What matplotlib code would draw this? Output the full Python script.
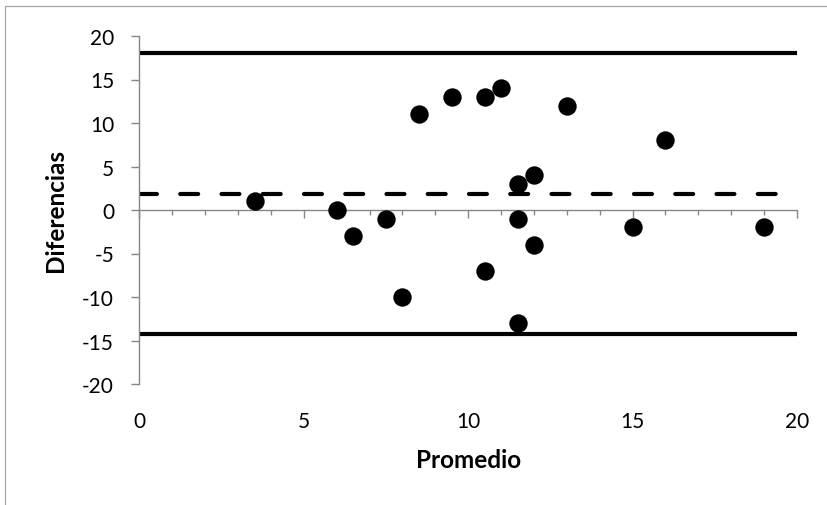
import matplotlib
matplotlib.use('Agg')
import matplotlib.pyplot as plt
from matplotlib.ticker import MultipleLocator
from matplotlib.patches import Rectangle

# ---- data ----
promedio = [3.5, 6, 6.5, 7.5, 8, 8.5, 9.5, 10.5, 11, 10.5, 11.5, 11.5, 11.5, 12, 12, 13, 15, 16, 19]
diferencias = [1, 0, -3, -1, -10, 11, 13, 13, 14, -7, 3, -1, -13, 4, -4, 12, -2, 8, -2]
media = 1.85
limite_sup = 18.0
limite_inf = -14.3
rango_x = [0, 20]
x_ticks = [0, 5, 10, 15, 20]
y_ticks = [-20, -15, -10, -5, 0, 5, 10, 15, 20]

plt.rcParams['font.family'] = ['Lato', 'DejaVu Sans']
plt.rcParams['axes.unicode_minus'] = False
GRAY = '#868686'
W, H = 828, 506

fig = plt.figure(figsize=(W / 100, H / 100), dpi=100)
fig.patches.append(Rectangle((5 / W, -0.1), 1.2, 1 - 7 / H + 0.1, transform=fig.transFigure,
                             facecolor='none', edgecolor='#a6a6a6', linewidth=0.9))

ax = fig.add_axes([139.5 / W, 1 - 385 / H, (797 - 139.5) / W, 348 / H])
ax.set_xlim(0, 20)
ax.set_ylim(-20, 20)

# limits and mean lines
ax.plot(rango_x, [limite_sup, limite_sup], color='black', lw=3.0, solid_capstyle='round', zorder=2)
ax.plot(rango_x, [limite_inf, limite_inf], color='black', lw=3.0, solid_capstyle='round', zorder=2)
ax.plot(rango_x, [media, media], color='black', lw=3.0, linestyle=(0, (4.3, 5.6)),
        dash_capstyle='round', zorder=2)

ax.scatter(promedio, diferencias, s=175, color='black', linewidths=0, zorder=3)

# spines
for s in ['top', 'right']:
    ax.spines[s].set_visible(False)
ax.spines['left'].set_color(GRAY)
ax.spines['left'].set_linewidth(1.0)
ax.spines['bottom'].set_position(('data', 0))
ax.spines['bottom'].set_color(GRAY)
ax.spines['bottom'].set_linewidth(1.0)

ax.set_yticks(y_ticks)
ax.tick_params(axis='y', which='major', direction='out', length=5.8, width=1.0, color=GRAY,
               labelsize=15, pad=12.5, labelcolor='black')
ax.set_xticks(x_ticks)
ax.xaxis.set_minor_locator(MultipleLocator(1))
ax.tick_params(axis='x', which='major', direction='out', length=5.8, width=1.0, color=GRAY,
               labelbottom=False)
ax.tick_params(axis='x', which='minor', direction='out', length=3.6, width=1.0, color=GRAY)

sec = ax.secondary_xaxis('bottom')
sec.spines['bottom'].set_visible(False)
sec.set_xticks(x_ticks)
sec.tick_params(axis='x', length=0, labelsize=15, pad=19.5, labelcolor='black')

ax.set_ylabel('Diferencias', fontsize=17.5, fontweight='bold')
ax.yaxis.set_label_coords((56 - 139.5) / (797 - 139.5), 0.5)
ax.yaxis.label.set_verticalalignment('center')
ax.set_xlabel('Promedio', fontsize=17.5, fontweight='bold')
ax.xaxis.set_label_coords(0.5, (385 - 460) / 348)
ax.xaxis.label.set_verticalalignment('center')

fig.savefig('out.png', dpi=100)
